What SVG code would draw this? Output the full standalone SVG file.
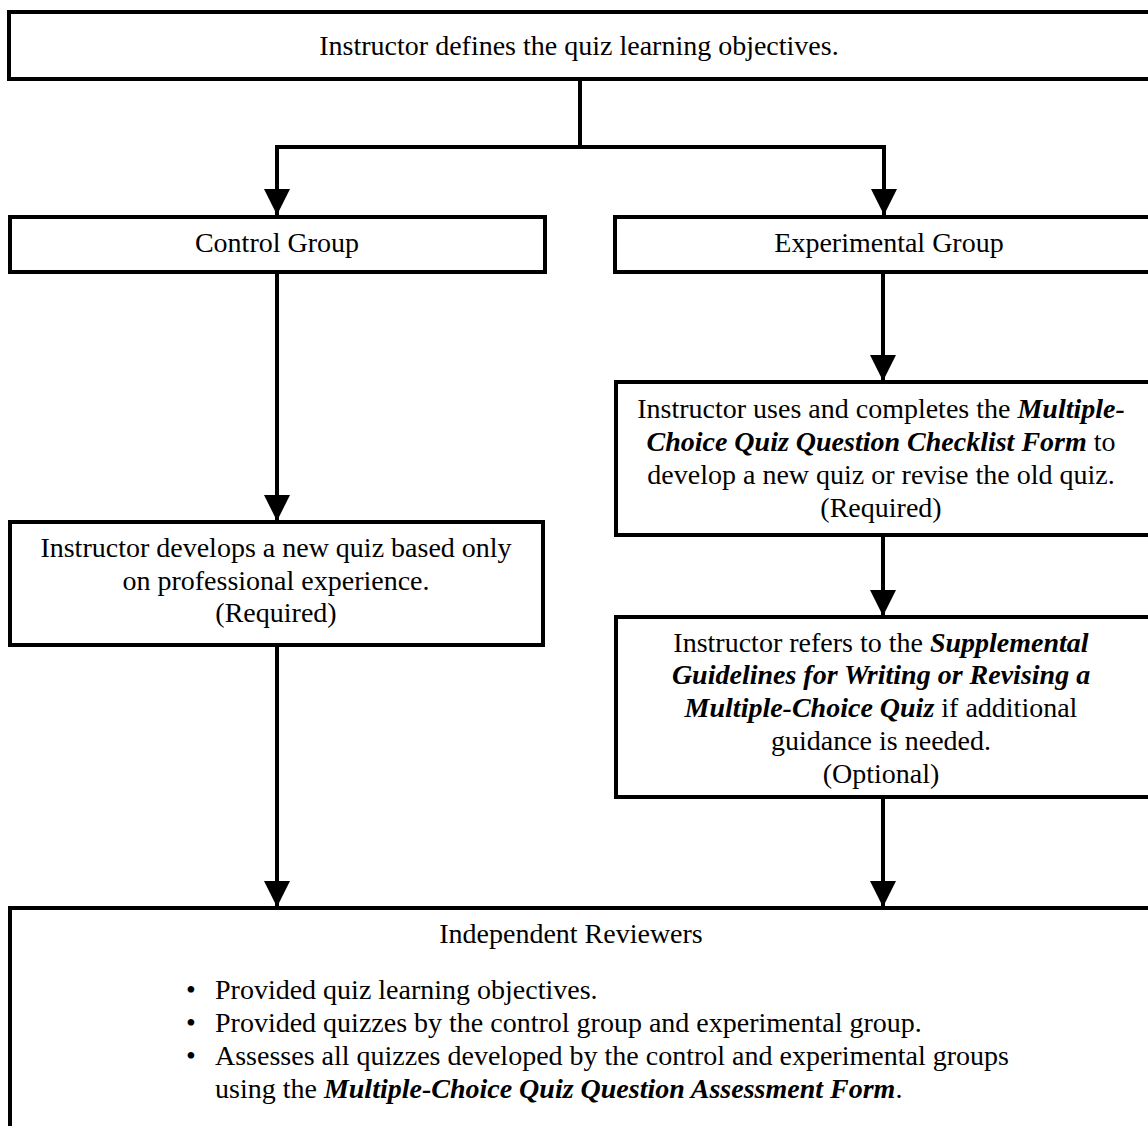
<svg xmlns="http://www.w3.org/2000/svg" width="1148" height="1126" viewBox="0 0 1148 1126">
<style>
  .box { fill: #ffffff; stroke: #000000; stroke-width: 4; }
  .t { font-family: "Liberation Serif", "Times New Roman", serif; font-size: 28px; fill: #000000; }
  .c { text-anchor: middle; }
  .bi { font-weight: bold; font-style: italic; }
  .edge { fill: none; stroke: #000000; stroke-width: 4; }
</style>
<defs>
  <marker id="arrow" viewBox="0 0 26 26" refX="26" refY="13" markerWidth="26" markerHeight="26" markerUnits="userSpaceOnUse" orient="auto">
    <path d="M0,0 L26,13 L0,26 Z" fill="#000000"/>
  </marker>
</defs>
<rect width="1148" height="1126" fill="#ffffff"/>

<g id="connectors">
  <path class="edge" d="M580,79 V147"/>
  <path class="edge" d="M277,147 H884"/>
  <path class="edge" d="M277,145 V215" marker-end="url(#arrow)"/>
  <path class="edge" d="M884,145 V215" marker-end="url(#arrow)"/>
  <path class="edge" d="M277,272 V521" marker-end="url(#arrow)"/>
  <path class="edge" d="M277,645 V907" marker-end="url(#arrow)"/>
  <path class="edge" d="M883,272 V381" marker-end="url(#arrow)"/>
  <path class="edge" d="M883,535 V616" marker-end="url(#arrow)"/>
  <path class="edge" d="M883,797 V907" marker-end="url(#arrow)"/>
</g>

<g id="node-objectives">
  <rect class="box" x="9" y="12" width="1150" height="67"/>
  <text class="t c" x="579" y="55">Instructor defines the quiz learning objectives.</text>
</g>

<g id="node-control">
  <rect class="box" x="10" y="217" width="535" height="55"/>
  <text class="t c" x="277" y="252">Control Group</text>
</g>

<g id="node-experimental">
  <rect class="box" x="615" y="217" width="545" height="55"/>
  <text class="t c" x="889" y="252">Experimental Group</text>
</g>

<g id="node-control-develop">
  <rect class="box" x="10" y="522" width="533" height="123"/>
  <text class="t c" x="276" y="557">Instructor develops a new quiz based only</text>
  <text class="t c" x="276" y="590">on professional experience.</text>
  <text class="t c" x="276" y="622">(Required)</text>
</g>

<g id="node-checklist">
  <rect class="box" x="616" y="382" width="545" height="153"/>
  <text class="t c" x="881" y="418">Instructor uses and completes the <tspan class="bi">Multiple-</tspan></text>
  <text class="t c" x="881" y="451"><tspan class="bi">Choice Quiz Question Checklist Form</tspan> to</text>
  <text class="t c" x="881" y="484">develop a new quiz or revise the old quiz.</text>
  <text class="t c" x="881" y="517">(Required)</text>
</g>

<g id="node-guidelines">
  <rect class="box" x="616" y="617" width="545" height="180"/>
  <text class="t c" x="881" y="652">Instructor refers to the <tspan class="bi">Supplemental</tspan></text>
  <text class="t c" x="881" y="684"><tspan class="bi">Guidelines for Writing or Revising a</tspan></text>
  <text class="t c" x="881" y="717"><tspan class="bi">Multiple-Choice Quiz</tspan> if additional</text>
  <text class="t c" x="881" y="750">guidance is needed.</text>
  <text class="t c" x="881" y="783">(Optional)</text>
</g>

<g id="node-reviewers">
  <rect class="box" x="10" y="908" width="1150" height="240"/>
  <text class="t c" x="571" y="943">Independent Reviewers</text>
  <text class="t" x="186" y="999">•</text>
  <text class="t" x="215" y="999">Provided quiz learning objectives.</text>
  <text class="t" x="186" y="1032">•</text>
  <text class="t" x="215" y="1032">Provided quizzes by the control group and experimental group.</text>
  <text class="t" x="186" y="1065">•</text>
  <text class="t" x="215" y="1065">Assesses all quizzes developed by the control and experimental groups</text>
  <text class="t" x="215" y="1098">using the <tspan class="bi">Multiple-Choice Quiz Question Assessment Form</tspan>.</text>
</g>
</svg>
